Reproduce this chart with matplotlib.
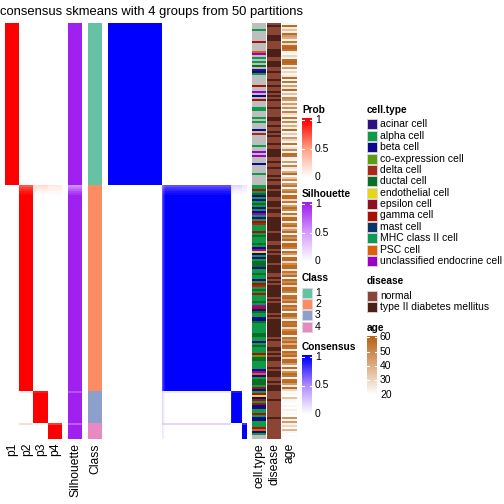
import numpy as np
import matplotlib
matplotlib.use("Agg")
import matplotlib.pyplot as plt
from matplotlib.colors import LinearSegmentedColormap, ListedColormap, to_rgb
from matplotlib.patches import Rectangle

plt.rcParams['font.family'] = ['Liberation Sans', 'DejaVu Sans']

W, H = 504, 504
title = "consensus skmeans with 4 groups from 50 partitions"

class_labels = ["1", "2", "3", "4"]
class_sizes = [81, 103, 16, 8]
class_colors = ["#66C2A5", "#FC8D62", "#8DA0CB", "#E78AC3"]

# rows with mixed class probabilities: p1, p2, p3, p4
prob_rows = {
    81: [0.0, 0.72, 0.18, 0.10],
    82: [0.0, 0.80, 0.12, 0.08],
    83: [0.0, 0.86, 0.08, 0.06],
    84: [0.0, 0.92, 0.05, 0.03],
    85: [0.0, 0.96, 0.02, 0.02],
    184: [0.0, 0.08, 0.92, 0.0],
    200: [0.0, 0.18, 0.0, 0.82],
}
sil_rows = {81: 0.55, 82: 0.65, 83: 0.75, 84: 0.85, 85: 0.92, 184: 0.8, 200: 0.75}

# g = not available
cell_type_names = ["acinar cell", "alpha cell", "beta cell", "co-expression cell",
                   "delta cell", "ductal cell", "endothelial cell", "epsilon cell",
                   "gamma cell", "mast cell", "MHC class II cell", "PSC cell",
                   "unclassified endocrine cell"]
cell_type_codes = ["C", "A", "B", "X", "E", "D", "N", "S", "G", "M", "H", "P", "U"]
cell_type_colors = ["#2D1183", "#0E9A48", "#0A0A8A", "#5C9D12", "#A52A18", "#0B6E26",
                    "#E5D812", "#8E1120", "#AA1100", "#0A3366", "#0E9A55", "#DE5E0A",
                    "#9B00C6"]
cell_type = ("gggAgggggG" "ggggPUgAgA" "gDgCBAgggg" "gGggUgBgGg" "ggAAgggAgA"
             "gggBgEgggg" "gAggUgUggg" "BggggAgggg" "g"
             "AAGADBABAD" "ABABUABAGE" "AAAGADAAAD" "ABUNBABADD" "DBAADAABAG"
             "EADAGAAADA" "UGBDAABBDA" "AAAADDAABA" "DAAAGXDDAA" "AABUPBADDD" "AGB"
             "AGNBGAGBBAAGABBA"
             "AAGPBAgg")

disease_names = ["normal", "type II diabetes mellitus"]
disease_colors = ["#8C4435", "#4B2016"]
disease = ("ntnnnntttn" "nnnttttnnt" "ttnntnnntn" "ntnntntntn" "nntnnnnttn"
           "ntnntntnnn" "tnnttttnnt" "nntnnntntn" "n"
           "ttntttnntt" "tnttnntttt" "tttnttttnn" "ttntnttttn" "ttttnntntn"
           "ttttttntnt" "ttttntnttt" "ttttttntnn" "nttntnttnn" "ntntttnntn" "ttt"
           "nnnntnnnnnnnntnn"
           "nnnnnnnn")

age = [22, 58, 25, 35, 24, 58, 45, 40, 22, 55,
       28, 58, 60, 56, 23, 22, 30, 22, 58, 60,
       57, 24, 45, 22, 30, 22, 25, 58, 22, 55,
       22, 44, 25, 58, 22, 35, 22, 50, 46, 22,
       45, 25, 48, 22, 52, 28, 22, 56, 24, 50,
       22, 40, 24, 58, 22, 33, 22, 46, 30, 22,
       56, 22, 28, 50, 22, 58, 57, 24, 22, 45,
       22, 52, 26, 22, 40, 58, 22, 33, 50, 22,
       46,
       55, 22, 48, 56, 24, 58, 58, 30, 55, 22,
       45, 58, 50, 22, 56, 28, 58, 58, 24, 52,
       58, 30, 45, 58, 22, 56, 48, 58, 25, 58,
       58, 52, 22, 57, 46, 24, 58, 58, 30, 50,
       58, 58, 26, 55, 45, 58, 22, 58, 50, 58,
       28, 58, 58, 52, 22, 56, 58, 48, 58, 25,
       58, 50, 56, 22, 58, 58, 45, 24, 58, 55,
       58, 30, 50, 58, 58, 22, 56, 48, 58, 40,
       58, 56, 24, 58, 52, 58, 30, 58, 58, 45,
       22, 58, 24, 48, 58, 55, 22, 56, 58, 46,
       24, 58, 30,
       21, 22, 20, 35, 22, 21, 20, 22, 20, 24, 21, 22, 20, 48, 22, 45,
       23, 30, 21, 38, 22, 20, 21, 20]

# ---- derived matrices
cls = np.repeat(np.arange(4), class_sizes)
n = len(cls)
prob = np.eye(4)[cls]
for r, p in prob_rows.items():
    prob[r] = p
sil = np.ones(n)
for r, s in sil_rows.items():
    sil[r] = s
consensus = np.clip(prob @ prob.T, 0, 1)

red = LinearSegmentedColormap.from_list("prob", ["#FFFFFF", "#FF9E81", "#FF0000"])
purple = LinearSegmentedColormap.from_list("sil", ["#FFFFFF", "#D59BFC", "#A020F0"])
blue = LinearSegmentedColormap.from_list("cons", ["#FFFFFF", "#B28BFF", "#0000FF"])
brown = LinearSegmentedColormap.from_list("age", ["#FFFFFF", "#DDAE84", "#B8651B"])

ct_lookup = dict(zip(cell_type_codes, cell_type_colors))
ct_lookup["g"] = "#BEBEBE"
ct_rgb = np.array([to_rgb(ct_lookup[c]) for c in cell_type])[:, None, :]
dis_lookup = {"n": disease_colors[0], "t": disease_colors[1]}
dis_rgb = np.array([to_rgb(dis_lookup[c]) for c in disease])[:, None, :]
age_rgb = brown((np.array(age) - 20) / 40.0)[:, None, :3]

fig = plt.figure(figsize=(W / 100, H / 100), dpi=100)

TOP, BOT = 23, 439


def panel(x0, x1, data, **kw):
    ax = fig.add_axes([x0 / W, 1 - BOT / H, (x1 - x0) / W, (BOT - TOP) / H])
    ax.imshow(data, aspect='auto', interpolation='nearest', **kw)
    ax.axis('off')
    return ax


panel(5, 62, prob, cmap=red, vmin=0, vmax=1)
panel(68, 82, sil[:, None], cmap=purple, vmin=0, vmax=1)
panel(88, 102, cls[:, None], cmap=ListedColormap(class_colors), vmin=-0.5, vmax=3.5)
panel(108, 246, consensus, cmap=blue, vmin=0, vmax=1)
panel(252, 266, ct_rgb)
panel(267, 281, dis_rgb)
panel(282, 297, age_rgb)

fig.text(152 / W, 1 - 15.5 / H, title, ha='center', va='baseline', fontsize=9.4)

bottom_labels = [("p1", 12.5), ("p2", 27), ("p3", 41), ("p4", 55), ("Silhouette", 75),
                 ("Class", 95), ("cell.type", 259), ("disease", 274), ("age", 289.5)]
for lab, xc in bottom_labels:
    fig.text(xc / W, 1 - 443 / H, lab, rotation=90, ha='center', va='top', fontsize=8.7)

# ---- legends
ov = fig.add_axes([0, 0, 1, 1])
ov.axis('off')


def colorbar(x, top, cmap, lo, hi, cmin, cmax, ticks, labels, h=61, w=10):
    grad = np.linspace(hi, lo, 200)[:, None]
    ov.imshow(grad, cmap=cmap, vmin=cmin, vmax=cmax, extent=(x, x + w, top + h, top),
              aspect='auto', interpolation='bilinear')
    for t, lab in zip(ticks, labels):
        y = top + (hi - t) / (hi - lo) * h
        ov.plot([x, x + 2], [y, y], color='white', lw=0.8)
        ov.plot([x + w - 2, x + w], [y, y], color='white', lw=0.8)
        ov.text(x + w + 3, y, lab, va='center', ha='left', fontsize=7.5)


def title_text(x, y, s):
    ov.text(x, y, s, va='center', ha='left', fontsize=7.3, fontweight='bold')


def swatch(x, y, c, lab):
    ov.add_patch(Rectangle((x, y - 5), 10, 10, facecolor=c, edgecolor='#D8D8D8', lw=0.6))
    ov.text(x + 13, y, lab, va='center', ha='left', fontsize=7.5)


unit = [0, 0.5, 1]
unit_lab = ["0", "0.5", "1"]
title_text(302, 110, "Prob")
colorbar(302, 118, red, -0.03, 1.03, 0, 1, unit, unit_lab)
title_text(302, 194, "Silhouette")
colorbar(302, 202, purple, -0.03, 1.03, 0, 1, unit, unit_lab)
title_text(302, 278, "Class")
for k, (lab, c) in enumerate(zip(class_labels, class_colors)):
    swatch(302, 292.7 + 11.35 * k, c, lab)
title_text(302, 347, "Consensus")
colorbar(302, 355, blue, -0.03, 1.03, 0, 1, unit, unit_lab)

title_text(367, 110, "cell.type")
for k, (lab, c) in enumerate(zip(cell_type_names, cell_type_colors)):
    swatch(367, 124.3 + 11.4 * k, c, lab)
title_text(367, 281, "disease")
for k, (lab, c) in enumerate(zip(disease_names, disease_colors)):
    swatch(367, 295.7 + 11.6 * k, c, lab)
title_text(367, 328, "age")
colorbar(367, 336, brown, 19, 61, 20, 60, [20, 30, 40, 50, 60],
         ["20", "30", "40", "50", "60"], h=60)

ov.set_xlim(0, W)
ov.set_ylim(H, 0)

fig.savefig("out.png", dpi=100)
